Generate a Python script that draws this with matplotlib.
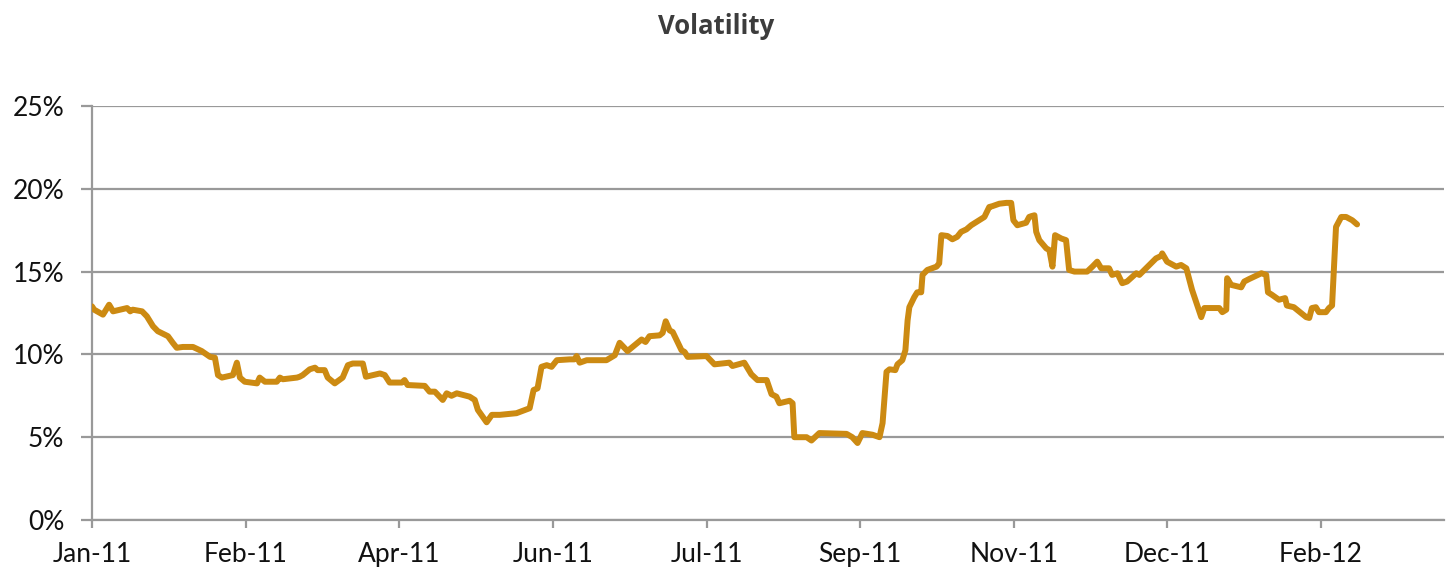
import matplotlib
matplotlib.use("Agg")
import matplotlib.pyplot as plt
from matplotlib.ticker import FuncFormatter, FixedLocator

# Trading-day index (category position on the axis)
day = [
    0, 0.5, 2.5, 3.9, 4.8, 8.0, 8.7, 9.3, 11.4, 12.5,
    13.9, 15.0, 17.3, 18.4, 19.3, 20.7, 23.0, 25.0, 26.9, 28.0,
    28.7, 29.6, 32.1, 33.0, 33.7, 34.8, 37.6, 38.2, 39.4, 42.1,
    42.8, 43.5, 46.7, 47.3, 48.0, 49.6, 50.8, 51.4, 53.0, 53.7,
    55.3,
    57.1, 58.3, 59.4, 61.7, 62.4, 65.6, 66.7, 67.8, 70.6, 71.2,
    71.9, 75.8, 76.9, 78.1, 79.9, 80.8, 81.9, 83.1, 86.0, 87.2,
    87.9, 89.9, 91.1, 92.9, 96.7, 99.7, 100.6, 101.5, 102.4, 103.6,
    104.7, 105.9, 108.8,
    109.9, 110.4, 111.1, 112.7, 117.2, 119.1, 120.2, 122.0, 125.2, 126.1,
    127.0, 129.3, 130.0, 130.7, 131.6, 132.3, 134.3, 135.0, 135.7, 140.0,
    141.8, 145.2, 145.9, 148.6, 150.2, 151.6, 153.7, 154.8, 155.9, 156.6,
    158.9, 159.6, 160.0, 161.2,
    162.8, 163.9, 165.7, 171.9, 173.2, 174.4, 175.5, 177.8, 179.4, 180.1,
    181.0, 181.7, 183.0, 183.5, 184.6, 185.3, 185.8, 186.2, 187.3, 188.0,
    188.9, 189.2, 190.3, 192.4, 193.0, 193.5, 194.9, 196.0, 197.1, 198.0,
    199.2, 200.3, 202.1, 203.3, 204.4, 205.1, 206.7, 208.3, 209.4, 209.9,
    210.8, 212.8, 213.5,
    214.0, 214.7, 215.1, 215.8, 217.4, 218.1, 218.8, 219.4, 220.8, 221.9,
    222.6, 223.8, 226.7, 227.9, 229.0, 229.9, 231.7, 232.4, 233.6, 234.7,
    235.8, 237.9, 238.6, 242.4, 243.6, 243.8, 244.9, 247.0, 248.1, 249.3,
    250.6, 252.7, 253.4, 256.8,
    257.5, 258.4, 258.6, 259.5, 261.8, 262.5, 263.6, 266.4, 267.5, 267.9,
    268.8, 270.4, 271.8, 272.2, 273.8, 276.6, 277.3, 277.9, 278.8, 279.5,
    281.1, 281.8, 282.5, 283.4, 284.6, 285.7, 287.1, 288.2,
]

# Volatility (%)
vol = [
    12.9, 12.7, 12.4, 13.0, 12.6, 12.8, 12.6, 12.7, 12.6, 12.3,
    11.7, 11.4, 11.1, 10.7, 10.4, 10.45, 10.45, 10.2, 9.85, 9.8,
    8.75, 8.6, 8.75, 9.5, 8.6, 8.35, 8.25, 8.6, 8.35, 8.35,
    8.6, 8.5, 8.6, 8.65, 8.75, 9.1, 9.2, 9.05, 9.05, 8.6,
    8.25,
    8.6, 9.35, 9.45, 9.45, 8.65, 8.85, 8.75, 8.3, 8.3, 8.45,
    8.15, 8.1, 7.75, 7.75, 7.25, 7.65, 7.5, 7.65, 7.45, 7.25,
    6.65, 5.9, 6.35, 6.35, 6.45, 6.75, 7.85, 7.95, 9.25, 9.35,
    9.25, 9.65, 9.7,
    9.7, 9.9, 9.5, 9.65, 9.65, 9.95, 10.7, 10.2, 10.9, 10.75,
    11.1, 11.15, 11.3, 12.0, 11.45, 11.35, 10.25, 10.15, 9.85, 9.9,
    9.4, 9.5, 9.3, 9.5, 8.8, 8.45, 8.45, 7.6, 7.45, 7.05,
    7.2, 7.05, 5.0, 5.0,
    5.0, 4.8, 5.25, 5.2, 5.0, 4.65, 5.25, 5.15, 5.0, 5.85,
    8.95, 9.1, 9.05, 9.4, 9.65, 10.25, 12.05, 12.85, 13.45, 13.75,
    13.75, 14.8, 15.1, 15.3, 15.5, 17.2, 17.15, 16.95, 17.1, 17.4,
    17.55, 17.8, 18.1, 18.3, 18.9, 18.95, 19.1, 19.15, 19.15, 18.1,
    17.8, 17.95, 18.3,
    18.35, 18.4, 17.4, 16.9, 16.4, 16.3, 15.3, 17.2, 17.0, 16.9,
    15.1, 15.0, 15.0, 15.3, 15.6, 15.2, 15.2, 14.8, 14.9, 14.3,
    14.4, 14.9, 14.8, 15.8, 15.95, 16.1, 15.6, 15.3, 15.4, 15.2,
    13.9, 12.25, 12.8, 12.8,
    12.55, 12.7, 14.6, 14.2, 14.05, 14.4, 14.55, 14.9, 14.8, 13.75,
    13.6, 13.3, 13.4, 12.95, 12.85, 12.25, 12.2, 12.8, 12.85, 12.55,
    12.55, 12.8, 12.95, 17.7, 18.3, 18.3, 18.1, 17.85,
]

tick_pos = [0, 35, 70, 105, 140, 175, 210, 245, 280]
tick_labels = ["Jan-11", "Feb-11", "Apr-11", "Jun-11", "Jul-11", "Sep-11",
               "Nov-11", "Dec-11", "Feb-12"]
y_ticks = [0, 5, 10, 15, 20, 25]

plt.rcParams['font.family'] = ['Lato', 'DejaVu Sans']

fig = plt.figure(figsize=(14.53, 5.77), dpi=100)
ax = fig.add_axes([92 / 1453, (577 - 520) / 577, (1444 - 92) / 1453, (520 - 106) / 577])

grid_c = "#999999"
ax.set_ylim(0, 25)
ax.set_xlim(0, 308)
ax.yaxis.set_major_locator(FixedLocator(y_ticks))
ax.yaxis.set_major_formatter(FuncFormatter(lambda v, p: f"{int(v)}%"))
ax.set_xticks(tick_pos)
ax.set_xticklabels(tick_labels)
ax.grid(axis='y', color=grid_c, linewidth=1.6)
ax.set_axisbelow(True)

ax.plot(day, vol, color="#CC8A12", linewidth=4.3, solid_joinstyle='round',
        solid_capstyle='round', zorder=3)

for s in ['top', 'right']:
    ax.spines[s].set_visible(False)
for s in ['left', 'bottom']:
    ax.spines[s].set_color(grid_c)
    ax.spines[s].set_linewidth(1.6)

ax.tick_params(axis='y', length=8, width=1.6, color=grid_c, pad=12,
               labelsize=19, labelcolor="#111111")
ax.tick_params(axis='x', length=6, width=1.6, color=grid_c, pad=10,
               labelsize=19, labelcolor="#111111")

fig.text(716 / 1453, 1 - 26 / 577, "Volatility", ha='center', va='center',
         fontsize=18.5, fontweight='bold', color="#3c3c3c",
         family=['Open Sans', 'DejaVu Sans'])

fig.savefig("out.png", dpi=100)
